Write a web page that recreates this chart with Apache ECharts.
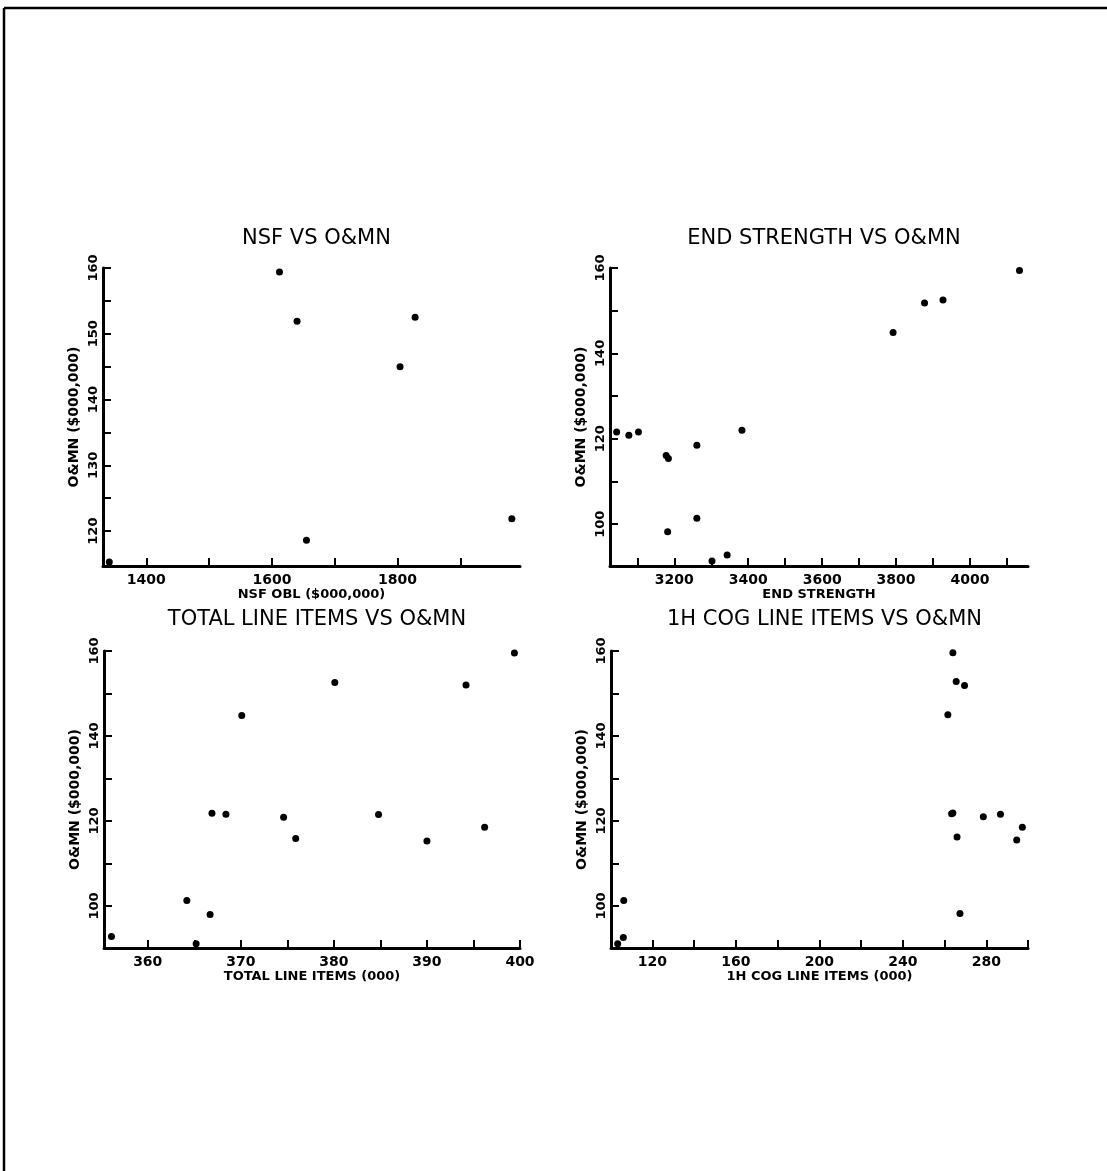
<!DOCTYPE html>
<html>
<head>
<meta charset="utf-8">
<script src="https://cdn.jsdelivr.net/npm/echarts@6/dist/echarts.min.js"></script>
<style>
html,body{margin:0;padding:0;background:#fff;}
#chart{width:1107px;height:1171px;}
</style>
</head>
<body>
<div id="chart"></div>
<script>
// ---------- data ----------
const titles = ['NSF VS O&MN', 'END STRENGTH VS O&MN', 'TOTAL LINE ITEMS VS O&MN', '1H COG LINE ITEMS VS O&MN'];
const xNames = ['NSF OBL ($000,000)', 'END STRENGTH', 'TOTAL LINE ITEMS (000)', '1H COG LINE ITEMS (000)'];
const yName = 'O&MN ($000,000)';

const nsfX = [1341, 1612, 1640, 1655, 1804, 1828, 1982];
const nsfY = [115.3, 159.4, 151.9, 118.6, 145.0, 152.5, 121.9];

const endX = [3044, 3077, 3103, 3178, 3184, 3182, 3261, 3261, 3302, 3343, 3383, 3792, 3877, 3927, 4134];
const endY = [121.6, 120.8, 121.6, 116.1, 115.4, 98.2, 118.5, 101.4, 91.4, 92.8, 122.0, 144.9, 151.8, 152.5, 159.4];

const totX = [356.1, 364.2, 365.2, 366.7, 366.9, 368.4, 370.1, 374.6, 375.9, 380.1, 384.8, 390.0, 394.2, 396.2, 399.4];
const totY = [92.8, 101.3, 91.1, 98.0, 121.8, 121.6, 144.8, 120.9, 115.9, 152.6, 121.5, 115.3, 152.0, 118.5, 159.5];

const cogX = [103.4, 106.1, 106.3, 261.6, 263.4, 264.0, 264.0, 265.6, 266.0, 267.4, 269.6, 278.6, 286.8, 294.6, 297.3];
const cogY = [91.1, 92.6, 101.3, 145.0, 121.7, 121.9, 159.6, 152.8, 116.2, 98.2, 151.9, 121.0, 121.6, 115.5, 118.5];

// axis extents
const xMin = [1331, 3026, 355.3, 100.2];
const xMax = [1995, 4157, 400, 300];
const yMin = [114.7, 90.2, 90.1, 90.1];
const yMax = [160, 160, 160, 160];

// ticks and tick labels
const xTicks1 = [1400, 1500, 1600, 1700, 1800, 1900];
const xLabels1 = [1400, 1600, 1800];
const xTicks2 = [3100, 3200, 3300, 3400, 3500, 3600, 3700, 3800, 3900, 4000, 4100];
const xLabels2 = [3200, 3400, 3600, 3800, 4000];
const xTicks3 = [360, 365, 370, 375, 380, 385, 390, 395, 400];
const xLabels3 = [360, 370, 380, 390, 400];
const xTicks4 = [120, 140, 160, 180, 200, 220, 240, 260, 280, 300];
const xLabels4 = [120, 160, 200, 240, 280];
const yTicks1 = [120, 125, 130, 135, 140, 145, 150, 155, 160];
const yLabels1 = [120, 130, 140, 150, 160];
const yTicksB = [100, 110, 120, 130, 140, 150, 160];
const yLabelsB = [100, 120, 140, 160];

// ---------- layout ----------
const FONT = 'DejaVu Sans';
const grids = [
  {left: 103, top: 268, width: 417, height: 298},
  {left: 610, top: 268, width: 418, height: 298},
  {left: 104, top: 651, width: 416, height: 297},
  {left: 611, top: 651, width: 417, height: 297}
];
const titleTops = [223, 223, 604, 604];
const xNameGaps = [17, 17, 17, 17];

const xs = [nsfX, endX, totX, cogX];
const ys = [nsfY, endY, totY, cogY];
const xTicks = [xTicks1, xTicks2, xTicks3, xTicks4];
const xLabels = [xLabels1, xLabels2, xLabels3, xLabels4];
const yTicks = [yTicks1, yTicksB, yTicksB, yTicksB];
const yLabels = [yLabels1, yLabelsB, yLabelsB, yLabelsB];

const plain = v => String(Math.round(v));
const axisLine = {show: true, onZero: false, lineStyle: {color: '#000', width: 3}};
const option = {
  backgroundColor: '#fff',
  animation: false,
  title: titles.map((t, i) => ({
    text: t,
    left: grids[i].left + grids[i].width / 2,
    top: titleTops[i],
    textAlign: 'center',
    textStyle: {fontFamily: FONT, fontWeight: 'normal', fontSize: 21, color: '#000'}
  })),
  grid: grids.map(g => Object.assign({containLabel: false}, g)),
  xAxis: grids.map((g, i) => ({
    type: 'value', gridIndex: i, min: xMin[i], max: xMax[i],
    name: xNames[i], nameLocation: 'middle', nameGap: xNameGaps[i],
    nameTextStyle: {fontFamily: FONT, fontWeight: 'bold', fontSize: 13, color: '#000'},
    axisLine: axisLine,
    axisTick: {show: true, inside: true, length: 8, customValues: xTicks[i], lineStyle: {color: '#000', width: 2}},
    axisLabel: {show: true, customValues: xLabels[i], formatter: plain, margin: 7, fontFamily: FONT, fontWeight: 'bold', fontSize: 14, color: '#000'},
    splitLine: {show: false}
  })),
  yAxis: grids.map((g, i) => ({
    type: 'value', gridIndex: i, min: yMin[i], max: yMax[i],
    name: yName, nameLocation: 'middle', nameGap: 22, nameRotate: 90,
    nameTextStyle: {fontFamily: FONT, fontWeight: 'bold', fontSize: 14, color: '#000'},
    axisLine: axisLine,
    axisTick: {show: true, inside: true, length: 8, customValues: yTicks[i], lineStyle: {color: '#000', width: 2}},
    axisLabel: {show: true, customValues: yLabels[i], formatter: plain, rotate: 90, margin: 3, fontFamily: FONT, fontWeight: 'bold', fontSize: 13, color: '#000'},
    splitLine: {show: false}
  })),
  series: xs.map((xv, i) => ({
    type: 'scatter', xAxisIndex: i, yAxisIndex: i,
    symbol: 'circle', symbolSize: 7,
    itemStyle: {color: '#000', opacity: 1},
    data: xv.map((x, j) => [x, ys[i][j]])
  })),
  graphic: [
    {type: 'line', shape: {x1: 4, y1: 8, x2: 1107, y2: 8}, style: {stroke: '#000', lineWidth: 2.5}},
    {type: 'line', shape: {x1: 4, y1: 8, x2: 4, y2: 1171}, style: {stroke: '#000', lineWidth: 2.5}}
  ]
};
const chart = echarts.init(document.getElementById('chart'), null, {renderer: 'canvas'});
chart.setOption(option);
</script>
</body>
</html>
